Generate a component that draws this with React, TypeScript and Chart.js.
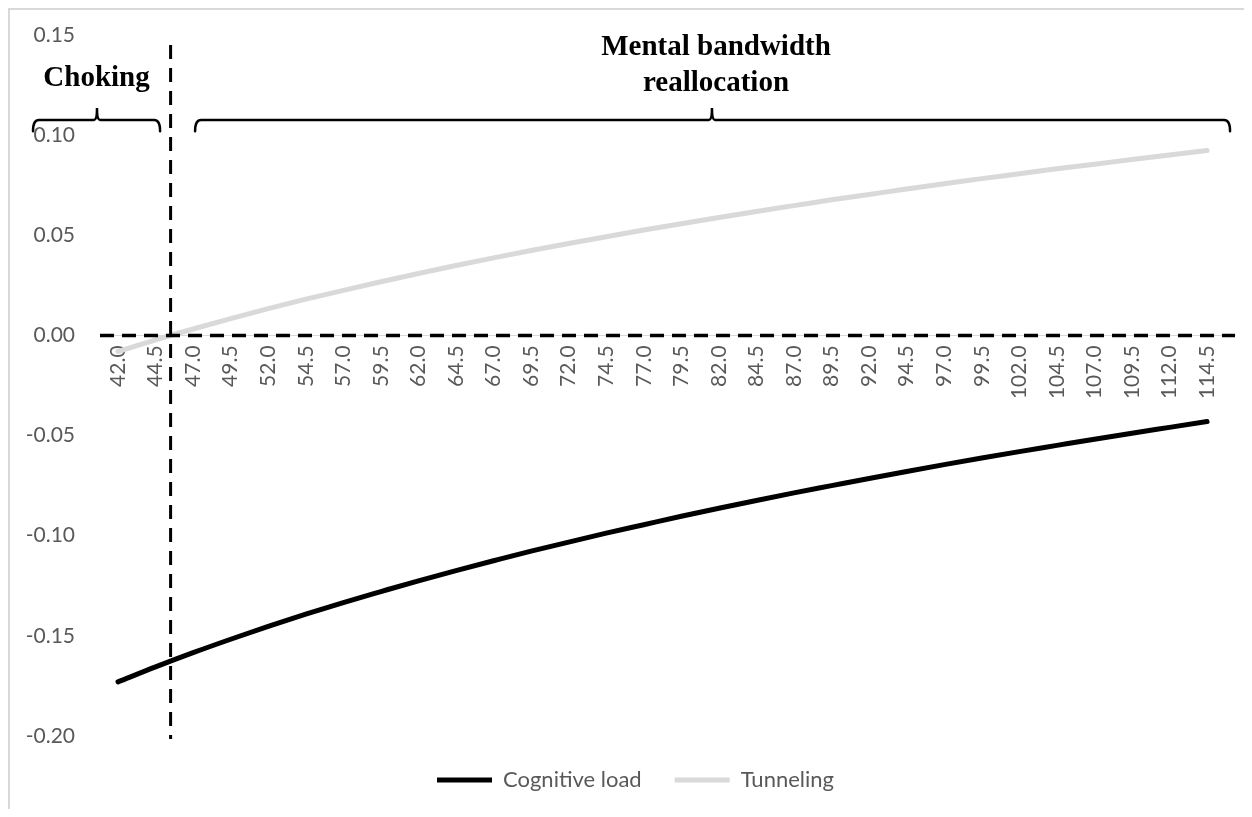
import React, { useEffect, useRef } from "react";
import { Chart, registerables } from "chart.js";

Chart.register(...registerables);

// ---- data ----
const xValues = [
  42.0, 44.5, 47.0, 49.5, 52.0, 54.5, 57.0, 59.5, 62.0, 64.5, 67.0, 69.5, 72.0, 74.5, 77.0,
  79.5, 82.0, 84.5, 87.0, 89.5, 92.0, 94.5, 97.0, 99.5, 102.0, 104.5, 107.0, 109.5, 112.0, 114.5,
];
const cognitiveLoad = [
  -0.173, -0.1655, -0.1584, -0.1517, -0.1453, -0.1392, -0.1334, -0.1279, -0.1225, -0.1174,
  -0.1125, -0.1077, -0.1032, -0.0987, -0.0945, -0.0903, -0.0863, -0.0824, -0.0786, -0.075,
  -0.0714, -0.0679, -0.0645, -0.0612, -0.058, -0.0549, -0.0518, -0.0488, -0.0459, -0.043,
];
const tunneling = [
  -0.008, -0.0022, 0.0032, 0.0084, 0.0134, 0.0181, 0.0225, 0.0268, 0.0309, 0.0349,
  0.0387, 0.0424, 0.0459, 0.0493, 0.0526, 0.0558, 0.0589, 0.0619, 0.0648, 0.0677,
  0.0704, 0.0731, 0.0757, 0.0783, 0.0807, 0.0832, 0.0855, 0.0878, 0.0901, 0.0923,
];
const seriesNames = ["Cognitive load", "Tunneling"];
const xTickValues = xValues;
const yMin = -0.2;
const yMax = 0.15;
const yStep = 0.05;
const xAxisMin = 40.8;
const xAxisMax = 116.36;
const thresholdX = 45.5;
const chokingText = "Choking";
const reallocationText = ["Mental bandwidth", "reallocation"];

const TICK_COLOR = "#595959";
const TICK_FONT = { family: "Lato", size: 21 };
const LEGEND_FONT = { family: "Lato", size: 22 };

function drawBrace(ctx: CanvasRenderingContext2D, x1: number, xm: number, x2: number, yLine: number, yEnd: number, yTip: number) {
  const r = 6;
  ctx.beginPath();
  ctx.moveTo(x1, yEnd);
  ctx.quadraticCurveTo(x1, yLine, x1 + r, yLine);
  ctx.lineTo(xm - 3, yLine);
  ctx.quadraticCurveTo(xm, yLine, xm, yTip);
  ctx.quadraticCurveTo(xm, yLine, xm + 3, yLine);
  ctx.lineTo(x2 - r, yLine);
  ctx.quadraticCurveTo(x2, yLine, x2, yEnd);
  ctx.stroke();
}

const annotationPlugin = {
  id: "annotations",
  afterDatasetsDraw(chart: any) {
    const { ctx, chartArea } = chart;
    const x = chart.scales.x;
    const y = chart.scales.y;
    ctx.save();
    // dashed zero line
    const y0 = y.getPixelForValue(0);
    ctx.strokeStyle = "#000";
    ctx.lineWidth = 3.5;
    ctx.setLineDash([14, 8]);
    ctx.beginPath();
    ctx.moveTo(chartArea.left, y0);
    ctx.lineTo(chartArea.right, y0);
    ctx.stroke();
    // vertical threshold
    const vx = x.getPixelForValue(thresholdX);
    ctx.lineWidth = 3;
    ctx.setLineDash([14, 9]);
    ctx.beginPath();
    ctx.moveTo(vx, y.getPixelForValue(0.145));
    ctx.lineTo(vx, y.getPixelForValue(-0.2015));
    ctx.stroke();
    ctx.setLineDash([]);
    // braces
    ctx.lineWidth = 2.5;
    ctx.lineCap = "round";
    const yLine = y.getPixelForValue(0.1075);
    const yEnd = y.getPixelForValue(0.102);
    const yTip = y.getPixelForValue(0.1135);
    drawBrace(ctx, x.getPixelForValue(36.34), x.getPixelForValue(40.6), x.getPixelForValue(44.8), yLine, yEnd, yTip);
    drawBrace(ctx, x.getPixelForValue(47.13), x.getPixelForValue(81.54), x.getPixelForValue(116.03), yLine, yEnd, yTip);
    // texts
    ctx.fillStyle = "#000";
    ctx.font = 'bold 29px "Liberation Serif"';
    ctx.textAlign = "center";
    ctx.textBaseline = "middle";
    ctx.fillText(chokingText, x.getPixelForValue(40.57), y.getPixelForValue(0.1285));
    ctx.fillText(reallocationText[0], x.getPixelForValue(81.81), y.getPixelForValue(0.144));
    ctx.fillText(reallocationText[1], x.getPixelForValue(81.81), y.getPixelForValue(0.126));
    ctx.restore();
  },
};

export default function App() {
  const ref = useRef<HTMLCanvasElement>(null);
  useEffect(() => {
    if (!ref.current) return;
    const chart = new Chart(ref.current, {
      type: "line",
      data: {
        datasets: [
          {
            label: seriesNames[0],
            data: xValues.map((v, i) => ({ x: v, y: cognitiveLoad[i] })),
            borderColor: "#000000",
            backgroundColor: "#000000",
            borderWidth: 5,
            borderCapStyle: "round",
            pointRadius: 0,
            cubicInterpolationMode: "monotone",
          },
          {
            label: seriesNames[1],
            data: xValues.map((v, i) => ({ x: v, y: tunneling[i] })),
            borderColor: "#d9d9d9",
            backgroundColor: "#d9d9d9",
            borderWidth: 5,
            borderCapStyle: "round",
            pointRadius: 0,
            cubicInterpolationMode: "monotone",
          },
        ],
      },
      options: {
        animation: false,
        responsive: false,
        devicePixelRatio: 1,
        layout: { padding: { top: 25, right: 0, left: 0, bottom: 8 } },
        scales: {
          x: {
            type: "linear",
            position: { y: 0 } as any,
            min: xAxisMin,
            max: xAxisMax,
            afterFit(s: any) {
              s.height = 0;
            },
            afterBuildTicks(s: any) {
              s.ticks = xTickValues.map((v) => ({ value: v }));
            },
            grid: { display: false, drawTicks: false },
            border: { display: true, color: "#d9d9d9", width: 1 },
            ticks: {
              minRotation: 90,
              maxRotation: 90,
              autoSkip: false,
              padding: 10,
              color: TICK_COLOR,
              font: TICK_FONT,
              callback: (v: any) => Number(v).toFixed(1),
            },
          },
          y: {
            min: yMin,
            max: yMax,
            afterFit(s: any) {
              s.width = 90;
            },
            grid: { display: false, drawTicks: true, tickLength: 25 },
            border: { display: false },
            ticks: {
              stepSize: yStep,
              padding: 0,
              color: TICK_COLOR,
              font: TICK_FONT,
              callback: (v: any) => (Math.abs(Number(v)) < 1e-9 ? "0.00" : Number(v).toFixed(2)),
            },
          },
          yRight: {
            position: "right",
            min: yMin,
            max: yMax,
            afterFit(s: any) {
              s.width = 26;
            },
            grid: { display: false, drawTicks: false },
            border: { display: false },
            ticks: { display: false },
          },
        },
        plugins: {
          legend: {
            position: "bottom",
            labels: {
              usePointStyle: true,
              pointStyle: "line",
              pointStyleWidth: 55,
              color: TICK_COLOR,
              font: LEGEND_FONT,
              padding: 33,
            },
          },
          tooltip: { enabled: false },
        },
      } as any,
      plugins: [annotationPlugin],
    });
    return () => chart.destroy();
  }, []);
  return (
    <div
      style={{
        width: 1244,
        height: 801,
        boxSizing: "border-box",
        borderTop: "2px solid #d9d9d9",
        borderLeft: "2px solid #d9d9d9",
        background: "#fff",
        overflow: "hidden",
      }}
    >
      <canvas ref={ref} width={1251} height={799} style={{ display: "block", width: 1251, height: 799 }} />
    </div>
  );
}
